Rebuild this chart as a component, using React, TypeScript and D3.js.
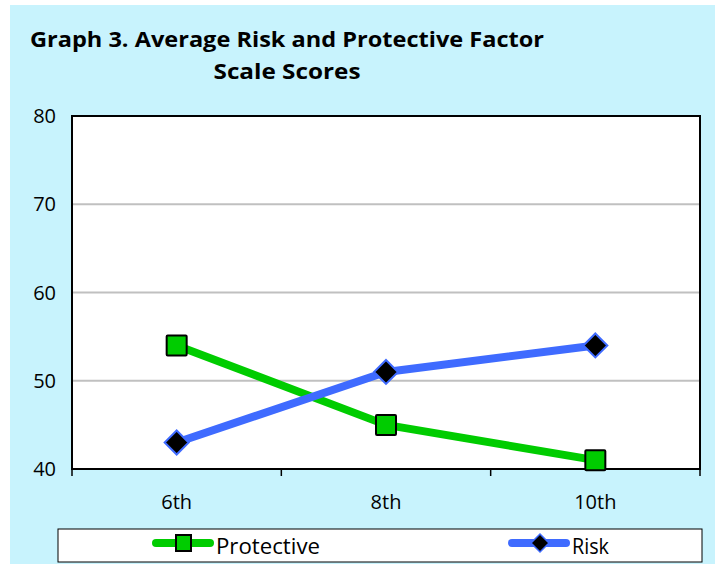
import React from "react";
import * as d3 from "d3";

const grades = ["6th", "8th", "10th"];
const protective = [54, 45, 41];
const risk = [43, 51, 54];
const yTicks = [40, 50, 60, 70, 80];

export default function App() {
  const W = 720, H = 564;
  const m = { left: 72, right: 700, top: 116, bottom: 469 };
  const x = d3.scaleBand<string>().domain(grades).range([m.left, m.right]);
  const y = d3.scaleLinear().domain([40, 80]).range([m.bottom, m.top]);
  const cx = (g: string) => (x(g) as number) + x.bandwidth() / 2;
  const line = d3.line<[number, number]>().x(d => d[0]).y(d => d[1]);
  const pPts = grades.map((g, i) => [cx(g), y(protective[i])] as [number, number]);
  const rPts = grades.map((g, i) => [cx(g), y(risk[i])] as [number, number]);
  const font = "'Open Sans', 'DejaVu Sans', sans-serif";
  const green = "#00cc00", blue = "#3f6bff";
  const tickXs = [m.left, ...grades.map(g => (x(g) as number) + x.bandwidth())];
  const diamond = (px: number, py: number, r: number) =>
    `M${px},${py - r}L${px + r},${py}L${px},${py + r}L${px - r},${py}Z`;
  return (
    <svg width={W} height={H} style={{ position: "absolute", left: 0, top: 0 }} fontFamily={font}>
      <rect x={10} y={5} width={705} height={H - 5} fill="#c8f3fd" />
      <text x={287} y={47} textAnchor="middle" fontSize={21} fontWeight="bold" fill="#000" textLength={514} lengthAdjust="spacingAndGlyphs">
        Graph 3. Average Risk and Protective Factor
      </text>
      <text x={287} y={79} textAnchor="middle" fontSize={21} fontWeight="bold" fill="#000" textLength={147} lengthAdjust="spacingAndGlyphs">
        Scale Scores
      </text>
      <rect x={m.left} y={m.top} width={m.right - m.left} height={m.bottom - m.top} fill="#fff" />
      {yTicks.filter(t => t !== 40 && t !== 80).map(t => (
        <line key={t} x1={m.left} x2={m.right} y1={y(t)} y2={y(t)} stroke="#c0c0c0" strokeWidth={2} />
      ))}
      <rect x={m.left} y={m.top} width={m.right - m.left} height={m.bottom - m.top} fill="none" stroke="#000" strokeWidth={2} />
      {yTicks.map(t => (
        <text key={t} x={56} y={y(t) + 7} textAnchor="end" fontSize={20} fill="#000">{t}</text>
      ))}
      {tickXs.map((tx, i) => (
        <line key={i} x1={tx} x2={tx} y1={m.bottom} y2={m.bottom + 7} stroke="#000" strokeWidth={1.5} />
      ))}
      {grades.map(g => (
        <text key={g} x={cx(g)} y={509} textAnchor="middle" fontSize={20} fill="#000">{g}</text>
      ))}
      <path d={line(pPts) as string} fill="none" stroke={green} strokeWidth={8} strokeLinejoin="round" />
      <path d={line(rPts) as string} fill="none" stroke={blue} strokeWidth={8} strokeLinejoin="round" />
      {rPts.map((p, i) => (
        <path key={i} d={diamond(p[0], p[1], 12)} fill="#000" stroke={blue} strokeWidth={2} />
      ))}
      {pPts.map((p, i) => (
        <rect key={i} x={p[0] - 10} y={p[1] - 10} width={20} height={20} fill={green} stroke="#000" strokeWidth={2} rx={1} />
      ))}
      <rect x={58} y={529} width={644} height={33} fill="#fff" stroke="#000" strokeWidth={1} />
      <line x1={156} x2={210} y1={543} y2={543} stroke={green} strokeWidth={8} strokeLinecap="round" />
      <rect x={176} y={535} width={15} height={16} fill={green} stroke="#000" strokeWidth={2} />
      <text x={216} y={554} fontSize={21} fill="#000" textLength={104} lengthAdjust="spacingAndGlyphs">Protective</text>
      <line x1={512} x2={566} y1={543} y2={543} stroke={blue} strokeWidth={8} strokeLinecap="round" />
      <path d={diamond(540, 543, 9)} fill="#000" stroke={blue} strokeWidth={1.5} />
      <text x={572} y={554} fontSize={21} fill="#000" textLength={37} lengthAdjust="spacingAndGlyphs">Risk</text>
    </svg>
  );
}
